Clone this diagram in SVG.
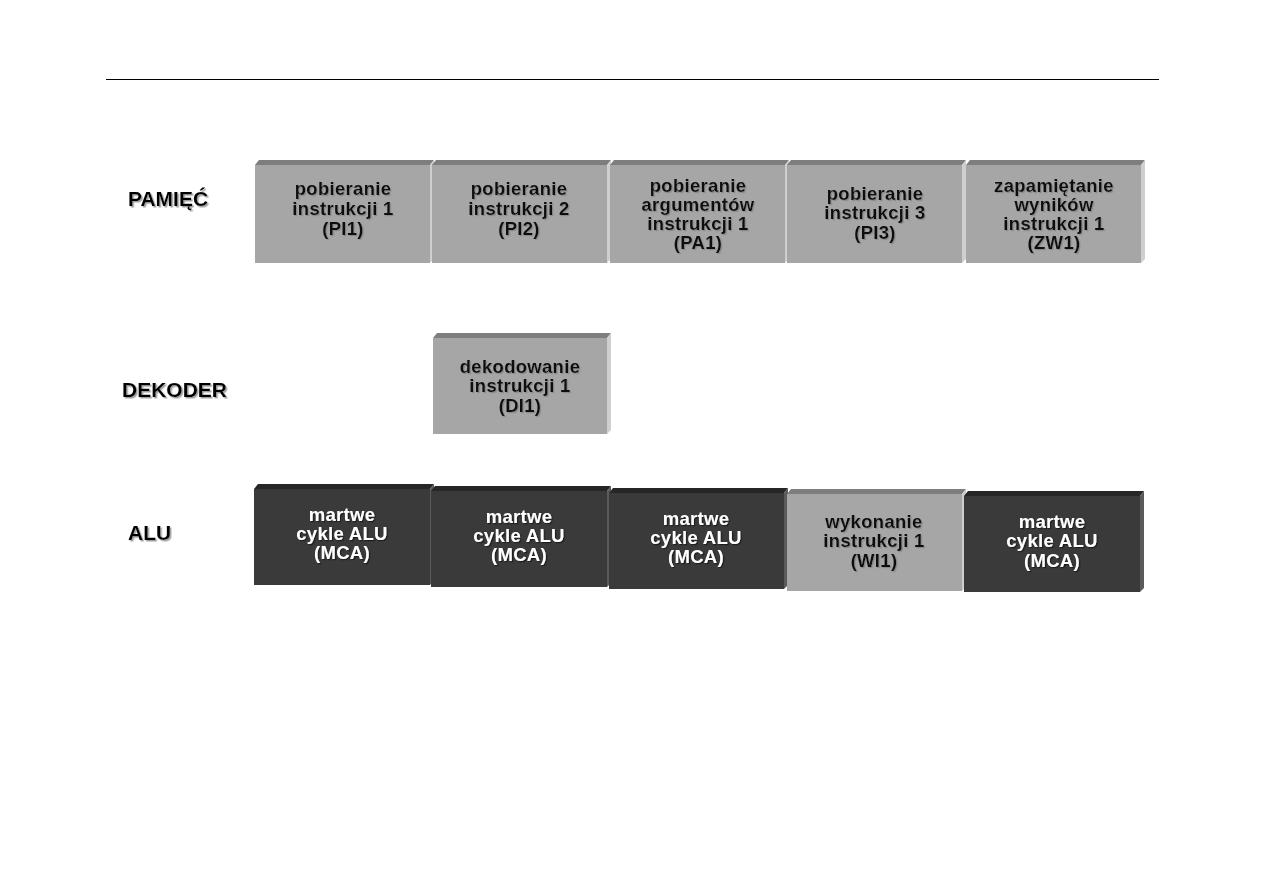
<svg xmlns="http://www.w3.org/2000/svg" width="1263" height="893" viewBox="0 0 1263 893">
<defs>
<filter id="sh" x="-10%" y="-30%" width="120%" height="160%">
<feDropShadow dx="1.2" dy="1.2" stdDeviation="0" flood-color="#8a8a8a" flood-opacity="1"/>
</filter>
<filter id="shl" x="-10%" y="-30%" width="120%" height="160%">
<feDropShadow dx="1.5" dy="1.5" stdDeviation="0" flood-color="#a0a0a0" flood-opacity="1"/>
</filter>
<filter id="shd" x="-10%" y="-30%" width="120%" height="160%">
<feDropShadow dx="1.2" dy="1.2" stdDeviation="0" flood-color="#1a1a1a" flood-opacity="1"/>
</filter>
</defs>
<style>
.face{fill:#a6a6a6}
.dface{fill:#3a3a3a}
.top{fill:#7e7e7e}
.dtop{fill:#262626}
.side{fill:#cfcfcf}
.dside{fill:#5a5a5a}
text{font-family:"Liberation Sans",Arial,sans-serif;font-weight:bold;text-anchor:middle}
.t{font-size:18.5px;fill:#111;letter-spacing:0.3px;filter:url(#sh)}
.w{font-size:18.5px;fill:#fff;letter-spacing:0.3px;filter:url(#shd)}
.lab{font-size:21px;fill:#000;text-anchor:start;filter:url(#shl)}
</style>
<rect width="1263" height="893" fill="#fff"/>
<line x1="106" y1="79.5" x2="1159" y2="79.5" stroke="#000" stroke-width="1"/>

<g id="labels">
<text class="lab" x="128" y="206">PAMIĘĆ</text>
<text class="lab" x="122" y="397">DEKODER</text>
<text class="lab" x="128" y="540">ALU</text>
</g>

<g id="connectors"></g>

<g id="PI1">
<polygon class="top" points="255,165 259,160 434,160 430,165"/>
<polygon class="side" points="430,165 434,160 434,259 430,263"/>
<rect class="face" x="255" y="165" width="175" height="98"/>
<text class="t" x="343" y="195">pobieranie</text><text class="t" x="343" y="215">instrukcji 1</text><text class="t" x="343" y="235">(PI1)</text>
</g>

<g id="PI2">
<polygon class="top" points="432,165 436,160 611,160 607,165"/>
<polygon class="side" points="607,165 611,160 611,259 607,263"/>
<rect class="face" x="432" y="165" width="175" height="98"/>
<text class="t" x="519" y="195">pobieranie</text><text class="t" x="519" y="215">instrukcji 2</text><text class="t" x="519" y="235">(PI2)</text>
</g>

<g id="PA1">
<polygon class="top" points="610,165 614,160 789,160 785,165"/>
<polygon class="side" points="785,165 789,160 789,259 785,263"/>
<rect class="face" x="610" y="165" width="175" height="98"/>
<text class="t" x="698" y="192">pobieranie</text><text class="t" x="698" y="211">argumentów</text><text class="t" x="698" y="230">instrukcji 1</text><text class="t" x="698" y="249">(PA1)</text>
</g>

<g id="PI3">
<polygon class="top" points="787,165 791,160 966,160 962,165"/>
<polygon class="side" points="962,165 966,160 966,259 962,263"/>
<rect class="face" x="787" y="165" width="175" height="98"/>
<text class="t" x="875" y="200">pobieranie</text><text class="t" x="875" y="219">instrukcji 3</text><text class="t" x="875" y="239">(PI3)</text>
</g>

<g id="ZW1">
<polygon class="top" points="966,165 970,160 1145,160 1141,165"/>
<polygon class="side" points="1141,165 1145,160 1145,259 1141,263"/>
<rect class="face" x="966" y="165" width="175" height="98"/>
<text class="t" x="1054" y="192">zapamiętanie</text><text class="t" x="1054" y="211">wyników</text><text class="t" x="1054" y="230">instrukcji 1</text><text class="t" x="1054" y="249">(ZW1)</text>
</g>

<g id="DI1">
<polygon class="top" points="433,338 437,333 611,333 607,338"/>
<polygon class="side" points="607,338 611,333 611,430 607,434"/>
<rect class="face" x="433" y="338" width="174" height="96"/>
<text class="t" x="520" y="373">dekodowanie</text><text class="t" x="520" y="392">instrukcji 1</text><text class="t" x="520" y="412">(DI1)</text>
</g>

<g id="MCA1">
<polygon class="dtop" points="254,489 258,484 434,484 430,489"/>
<polygon class="dside" points="430,489 434,484 434,581 430,585"/>
<rect class="dface" x="254" y="489" width="176" height="96"/>
<text class="w" x="342" y="521">martwe</text><text class="w" x="342" y="540">cykle ALU</text><text class="w" x="342" y="559">(MCA)</text>
</g>

<g id="MCA2">
<polygon class="dtop" points="431,491 435,486 611,486 607,491"/>
<polygon class="dside" points="607,491 611,486 611,583 607,587"/>
<rect class="dface" x="431" y="491" width="176" height="96"/>
<text class="w" x="519" y="523">martwe</text><text class="w" x="519" y="542">cykle ALU</text><text class="w" x="519" y="561">(MCA)</text>
</g>

<g id="MCA3">
<polygon class="dtop" points="609,493 613,488 788,488 784,493"/>
<polygon class="dside" points="784,493 788,488 788,585 784,589"/>
<rect class="dface" x="609" y="493" width="175" height="96"/>
<text class="w" x="696" y="525">martwe</text><text class="w" x="696" y="544">cykle ALU</text><text class="w" x="696" y="563">(MCA)</text>
</g>

<g id="WI1">
<polygon class="top" points="787,494 791,489 966,489 962,494"/>
<polygon class="side" points="962,494 966,489 966,587 962,591"/>
<rect class="face" x="787" y="494" width="175" height="97"/>
<text class="t" x="874" y="528">wykonanie</text><text class="t" x="874" y="547">instrukcji 1</text><text class="t" x="874" y="567">(WI1)</text>
</g>

<g id="MCA4">
<polygon class="dtop" points="964,496 968,491 1144,491 1140,496"/>
<polygon class="dside" points="1140,496 1144,491 1144,588 1140,592"/>
<rect class="dface" x="964" y="496" width="176" height="96"/>
<text class="w" x="1052" y="528">martwe</text><text class="w" x="1052" y="547">cykle ALU</text><text class="w" x="1052" y="567">(MCA)</text>
</g>
</svg>
